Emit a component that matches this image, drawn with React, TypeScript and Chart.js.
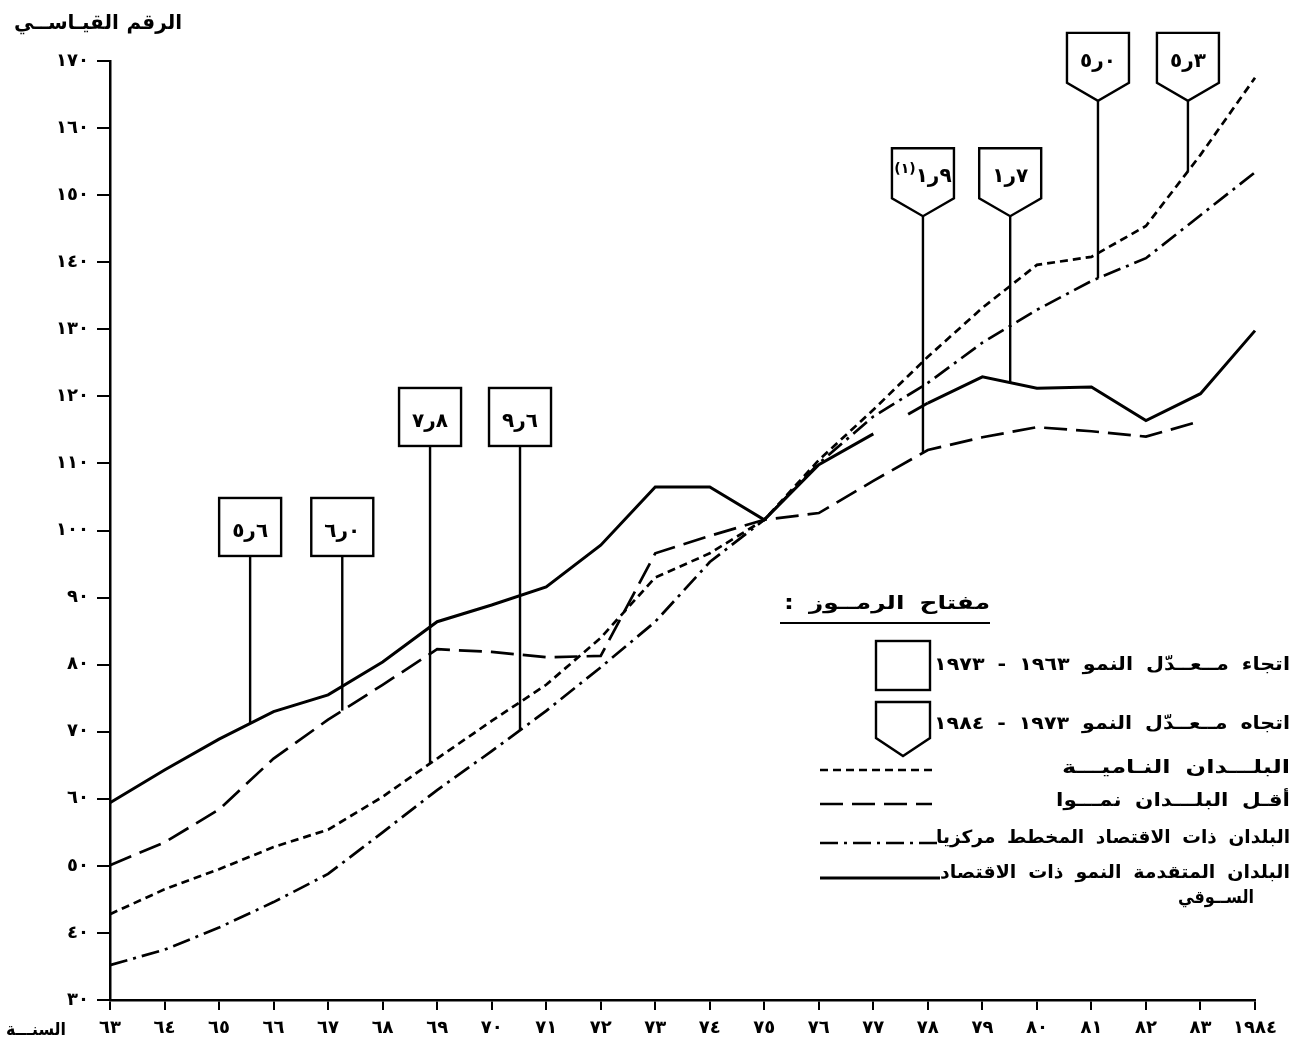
import React, { useEffect, useRef } from "react";
import { Chart, registerables } from "chart.js";

Chart.register(...registerables);

// ---------- data ----------
const years = [1963, 1964, 1965, 1966, 1967, 1968, 1969, 1970, 1971, 1972, 1973, 1974, 1975, 1976, 1977, 1978, 1979, 1980, 1981, 1982, 1983, 1984];
const yearLabels = ["٦٣", "٦٤", "٦٥", "٦٦", "٦٧", "٦٨", "٦٩", "٧٠", "٧١", "٧٢", "٧٣", "٧٤", "٧٥", "٧٦", "٧٧", "٧٨", "٧٩", "٨٠", "٨١", "٨٢", "٨٣", "١٩٨٤"];

const developing = [42.8, 46.5, 49.5, 52.8, 55.4, 60.3, 66.0, 71.6, 77.0, 84.0, 93.0, 96.6, 101.6, 110.5, 118.0, 125.9, 133.2, 139.6, 140.8, 145.4, 156.0, 167.5];
const leastDeveloped = [50.1, 53.5, 58.4, 66.0, 71.8, 77.0, 82.3, 81.9, 81.1, 81.3, 96.6, 99.2, 101.6, 102.6, 107.4, 112.0, 113.9, 115.4, 114.8, 114.0, 116.3, null];
const centrallyPlanned = [35.2, 37.5, 40.8, 44.6, 48.8, 55.0, 61.3, 67.1, 73.1, 79.6, 86.4, 95.3, 101.6, 110.0, 117.0, 122.0, 128.0, 132.9, 137.2, 140.6, 147.0, 153.4];
const marketEconomies = [59.4, 64.3, 68.9, 73.0, 75.5, 80.4, 86.4, 88.9, 91.6, 97.8, 106.5, 106.5, 101.6, 109.8, 114.4, 119.0, 122.9, 121.2, 121.4, 116.4, 120.4, 129.8];

const seriesNames = [
  "البلـــدان النـاميـــة",
  "أقـل البلـــدان نمـــوا",
  "البلدان ذات الاقتصاد المخطط مركزيا",
  "البلدان المتقدمة النمو ذات الاقتصاد",
];
const seriesNameLine2 = "الســوقي";

// growth-rate callouts (glyphs in visual order), series index, year position
const rates1963to1973 = ["٥ر٦", "٦ر٠", "٧ر٨", "٩ر٦"];
const rates1973to1984 = ["١ر٩", "١ر٧", "٥ر٠", "٥ر٣"];
const rateNote = ["(١)", "", "", ""];
const rateSeries1 = [3, 1, 0, 2];
const rateSeries2 = [1, 3, 2, 0];
const rateAt1 = [1965.57, 1967.26, 1968.87, 1970.52];
const rateAt2 = [1977.91, 1979.51, 1981.12, 1982.77];

const yTitle = "الرقم القيـاســي";
const xTitle = "السنـــة";
const legendTitle = "مفتاح الرمــوز :";
const legendRate1 = "اتجاء مــعــدّل النمو ١٩٦٣ - ١٩٧٣";
const legendRate2 = "اتجاه مــعــدّل النمو ١٩٧٣ - ١٩٨٤";

const toArabic = (n: number | string) => String(n).replace(/\d/g, (d) => "٠١٢٣٤٥٦٧٨٩"[+d]);

const FONT = '"DejaVu Sans", sans-serif';
const fontB = (s: number) => `bold ${s}px ${FONT}`;

const allSeries = [developing, leastDeveloped, centrallyPlanned, marketEconomies];
const dashes: number[][] = [[8, 5], [23, 9], [18, 6, 3, 6], []];

function valueAt(arr: (number | null)[], f: number) {
  const i = Math.floor(f);
  const t = f - i;
  const a = arr[i] as number;
  const b = (arr[i + 1] ?? a) as number;
  return a + t * (b - a);
}

// right-aligned RTL text stretched to a target width (a little word spacing, then a horizontal scale)
function fitRtl(ctx: any, text: string, right: number, left: number, y: number, size: number) {
  ctx.save();
  ctx.direction = "rtl";
  ctx.textAlign = "right";
  ctx.textBaseline = "middle";
  ctx.font = fontB(size);
  ctx.wordSpacing = "0px";
  const target = right - left;
  const w0 = ctx.measureText(text).width;
  const n = (text.match(/ /g) || []).length;
  const ws = n ? Math.max(0, Math.min(5, (target - w0) / n)) : 0;
  ctx.wordSpacing = ws + "px";
  const w1 = ctx.measureText(text).width;
  const sx = Math.max(0.8, Math.min(1.4, target / w1));
  ctx.translate(right, y);
  ctx.scale(sx, 1);
  ctx.fillText(text, 0, 0);
  ctx.restore();
}

const annotPlugin = {
  id: "annot",
  afterDraw(chart: any) {
    const ctx: any = chart.ctx;
    const xs = chart.scales.x;
    const ys = chart.scales.y;
    ctx.save();
    ctx.fillStyle = "#000";
    ctx.strokeStyle = "#000";

    // axis titles
    fitRtl(ctx, yTitle, 182, 14, 24, 20);
    fitRtl(ctx, xTitle, 66, 6, 1031, 17);

    // callouts
    const drawLabel = (main: string, sup: string, cx: number, cy: number) => {
      ctx.direction = "ltr";
      ctx.textBaseline = "middle";
      ctx.font = fontB(20);
      const m = "\u202D" + main + "\u202C";
      const wm = ctx.measureText(m).width;
      let ws = 0;
      const s = "\u202D" + sup + "\u202C";
      if (sup) {
        ctx.font = fontB(14);
        ws = ctx.measureText(s).width;
      }
      const x0 = cx - (wm + ws) / 2;
      ctx.textAlign = "left";
      if (sup) {
        ctx.fillText(s, x0, cy - 8);
      }
      ctx.font = fontB(20);
      ctx.fillText(m, x0 + ws, cy);
    };

    const boxW = 62;
    ctx.lineWidth = 2.4;
    rates1963to1973.forEach((txt, k) => {
      const f = years.indexOf(Math.floor(rateAt1[k])) + (rateAt1[k] - Math.floor(rateAt1[k]));
      const cx = xs.getPixelForValue(f);
      const yEnd = ys.getPixelForValue(valueAt(allSeries[rateSeries1[k]], f));
      const top = ys.getPixelForValue(k < 2 ? 104.85 : 121.25);
      const h = 58;
      ctx.strokeRect(cx - boxW / 2, top, boxW, h);
      ctx.beginPath();
      ctx.moveTo(cx, top + h);
      ctx.lineTo(cx, yEnd);
      ctx.stroke();
      drawLabel(txt, "", cx, top + h * 0.58);
    });
    rates1973to1984.forEach((txt, k) => {
      const f = years.indexOf(Math.floor(rateAt2[k])) + (rateAt2[k] - Math.floor(rateAt2[k]));
      const cx = xs.getPixelForValue(f);
      const yEnd = ys.getPixelForValue(valueAt(allSeries[rateSeries2[k]], f));
      const top = ys.getPixelForValue(k < 2 ? 157 : 174.2);
      const side = 50;
      const tip = 18;
      ctx.beginPath();
      ctx.moveTo(cx - boxW / 2, top);
      ctx.lineTo(cx + boxW / 2, top);
      ctx.lineTo(cx + boxW / 2, top + side);
      ctx.lineTo(cx, top + side + tip);
      ctx.lineTo(cx - boxW / 2, top + side);
      ctx.closePath();
      ctx.stroke();
      ctx.beginPath();
      ctx.moveTo(cx, top + side + tip);
      ctx.lineTo(cx, yEnd);
      ctx.stroke();
      drawLabel(txt, rateNote[k], cx, top + 29);
    });

    // legend
    fitRtl(ctx, legendTitle, 990, 784, 604, 19);
    ctx.lineWidth = 2.2;
    ctx.beginPath();
    ctx.moveTo(780, 623);
    ctx.lineTo(990, 623);
    ctx.stroke();

    ctx.lineWidth = 2.4;
    ctx.strokeRect(876, 641, 54, 49);
    ctx.beginPath();
    ctx.moveTo(876, 702);
    ctx.lineTo(930, 702);
    ctx.lineTo(930, 738);
    ctx.lineTo(903, 756);
    ctx.lineTo(876, 738);
    ctx.closePath();
    ctx.stroke();

    const textRight = 1290;
    fitRtl(ctx, legendRate1, textRight, 934, 665, 18);
    fitRtl(ctx, legendRate2, textRight, 934, 724, 18);

    const rowY = [770, 804, 843, 878];
    const textY = [768, 801, 838, 873];
    const textLeft = [1062, 1056, 936, 940];
    seriesNames.forEach((nm, i) => {
      ctx.save();
      ctx.setLineDash(dashes[i]);
      ctx.lineWidth = i === 3 ? 3 : 2.7;
      ctx.beginPath();
      ctx.moveTo(820, rowY[i]);
      ctx.lineTo(i >= 2 ? 940 : 932, rowY[i]);
      ctx.stroke();
      ctx.restore();
      fitRtl(ctx, nm, textRight, textLeft[i], textY[i], 18);
    });
    fitRtl(ctx, seriesNameLine2, 1254, 1178, 898, 18);

    ctx.restore();
  },
};

export default function App() {
  const ref = useRef<HTMLCanvasElement | null>(null);

  useEffect(() => {
    document.body.style.margin = "0";
    document.body.style.overflow = "hidden";
    if (!ref.current) return;

    const mk = (label: string, data: (number | null)[], i: number) => ({
      label,
      data,
      borderColor: "#000",
      backgroundColor: "#000",
      borderWidth: i === 3 ? 3 : 2.7,
      borderDash: dashes[i],
      pointRadius: 0,
      tension: 0,
      fill: false,
      spanGaps: false,
    });

    const dsMarket: any = mk(seriesNames[3], marketEconomies, 3);
    dsMarket.segment = {
      borderDash: (c: any) => (c.p0DataIndex === years.indexOf(1977) ? [0, 40, 3000] : undefined),
    };

    const chart = new Chart(ref.current, {
      type: "line",
      data: {
        labels: yearLabels,
        datasets: [
          mk(seriesNames[0], developing, 0),
          mk(seriesNames[1], leastDeveloped, 1),
          mk(seriesNames[2], centrallyPlanned, 2),
          dsMarket,
        ],
      },
      options: {
        animation: false,
        responsive: false,
        devicePixelRatio: 1,
        layout: { padding: { top: 61, right: 57, left: 0, bottom: 0 } },
        plugins: { legend: { display: false }, tooltip: { enabled: false } },
        scales: {
          x: {
            type: "category",
            offset: false,
            afterFit: (s: any) => {
              s.height = 53;
            },
            grid: {
              display: true,
              drawOnChartArea: false,
              drawTicks: true,
              tickLength: 10,
              color: "#000",
              lineWidth: 2,
            },
            border: { display: true, color: "#000", width: 2.5 },
            ticks: {
              autoSkip: false,
              maxRotation: 0,
              minRotation: 0,
              padding: 8,
              color: "#000",
              font: { family: FONT, weight: "bold", size: 18 },
            },
          },
          y: {
            min: 30,
            max: 170,
            afterFit: (s: any) => {
              s.width = 110;
            },
            grid: {
              display: true,
              drawOnChartArea: false,
              drawTicks: true,
              tickLength: 13,
              color: "#000",
              lineWidth: 2,
            },
            border: { display: true, color: "#000", width: 2.5 },
            ticks: {
              stepSize: 10,
              padding: 8,
              color: "#000",
              font: { family: FONT, weight: "bold", size: 18 },
              callback: (v: any) => toArabic(v),
            },
          },
        },
      } as any,
      plugins: [annotPlugin],
    });

    return () => chart.destroy();
  }, []);

  return (
    <div style={{ width: 1312, height: 1053, position: "relative", background: "#fff" }}>
      <canvas ref={ref} width={1312} height={1053} style={{ display: "block" }} />
    </div>
  );
}
